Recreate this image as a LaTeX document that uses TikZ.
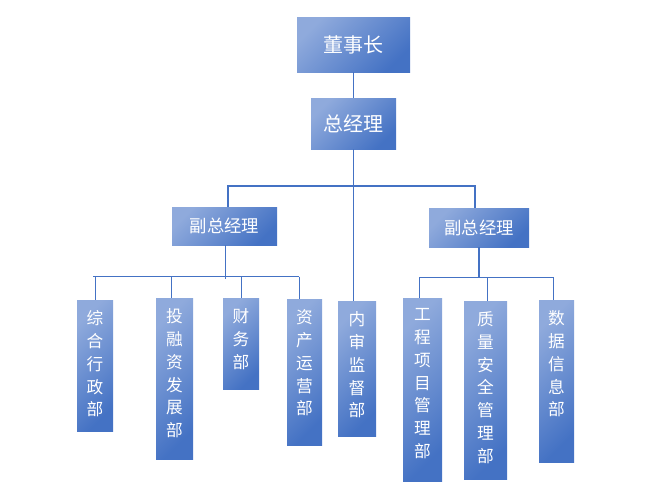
\documentclass[tikz,border=0pt]{standalone}
\usepackage{fontspec}
\setmainfont{Noto Sans CJK SC}
\definecolor{lb}{RGB}{143,170,220}
\definecolor{db}{RGB}{68,114,196}
\definecolor{ln}{RGB}{68,114,196}
\begin{document}
\begin{tikzpicture}[x=0.75pt,y=-0.75pt,
  box/.style={draw=none, top color=lb, bottom color=db, shading angle=45, inner sep=0pt, text=white},
  bigbox/.style={box, font=\fontsize{15}{17}\selectfont},
  midbox/.style={box, font=\fontsize{13}{15}\selectfont},
  vtxt/.style={text=white, align=center, inner sep=0pt, font=\fontsize{12.5}{17.1}\selectfont, anchor=north},
  conn/.style={draw=ln, line width=1pt}]
\useasboundingbox (0,0) rectangle (672,500);
% top boxes
\node[bigbox, minimum width=84.75pt, minimum height=41.25pt] (ceo) at (353.5,44.5) {董事长};
\node[bigbox, minimum width=63.75pt, minimum height=38.25pt] (gm) at (353.5,123.5) {总经理};
\node[midbox, minimum width=78.75pt, minimum height=28.5pt] (vp1) at (224.5,226) {副总经理};
\node[midbox, minimum width=75pt, minimum height=29.25pt] (vp2) at (479,227.5) {副总经理};
% departments
\node[box, minimum width=27pt, minimum height=98.25pt] (b1) at (95,365.5) {};
\node[box, minimum width=27.75pt, minimum height=120.75pt] (b2) at (174.5,378.5) {};
\node[box, minimum width=27pt, minimum height=68.25pt] (b3) at (241,343.5) {};
\node[box, minimum width=26.25pt, minimum height=109.5pt] (b4) at (304.5,372) {};
\node[box, minimum width=28.5pt, minimum height=101.25pt] (b5) at (357,368.5) {};
\node[box, minimum width=29.25pt, minimum height=137.25pt] (b6) at (422.5,389.5) {};
\node[box, minimum width=32.25pt, minimum height=133.5pt] (b7) at (485.5,390) {};
\node[box, minimum width=26.25pt, minimum height=121.5pt] (b8) at (556.5,381) {};
\node[vtxt] (t1) at ([yshift=-8pt]b1.north) {综\\合\\行\\政\\部};
\node[vtxt] (t2) at ([yshift=-8pt]b2.north) {投\\融\\资\\发\\展\\部};
\node[vtxt] (t3) at ([yshift=-8pt]b3.north) {财\\务\\部};
\node[vtxt] (t4) at ([yshift=-8pt]b4.north) {资\\产\\运\\营\\部};
\node[vtxt] (t5) at ([yshift=-8pt]b5.north) {内\\审\\监\\督\\部};
\node[vtxt] (t6) at ([yshift=-8pt]b6.north) {工\\程\\项\\目\\管\\理\\部};
\node[vtxt] (t7) at ([yshift=-8pt]b7.north) {质\\量\\安\\全\\管\\理\\部};
\node[vtxt] (t8) at ([yshift=-8pt]b8.north) {数\\据\\信\\息\\部};
% coordinates
\coordinate (barL) at (228,186);
\coordinate (barR) at (475,186);
\coordinate (l1) at (93,276.5);
\coordinate (l2) at (299,276.5);
\coordinate (lc) at (225.3,279);
\coordinate (d1) at (95.3,276.5);
\coordinate (d2) at (171.3,276.5);
\coordinate (d3) at (241.3,276.5);
\coordinate (d4) at (299.3,276.5);
\coordinate (r1) at (419.3,277.3);
\coordinate (r2) at (553.3,277.3);
\coordinate (e2) at (487.3,277.3);
% connectors
\draw[conn] (ceo.south) -- (gm.north);
\draw[conn] (gm.south) -- (gm.south |- b5.north);
\draw[conn] (barL |- vp1.north) -- (barL) -- (barR) -- (barR |- vp2.north);
\draw[conn] (vp1.south -| lc) -- (lc);
\draw[conn] (l1) -- (l2);
\draw[conn] (d1) -- (d1 |- b1.north);
\draw[conn] (d2) -- (d2 |- b2.north);
\draw[conn] (d3) -- (d3 |- b3.north);
\draw[conn] (d4) -- (d4 |- b4.north);
\draw[conn] (vp2.south) -- (vp2.south |- r1);
\draw[conn] (r1 |- b6.north) -- (r1) -- (r2) -- (r2 |- b8.north);
\draw[conn] (e2) -- (e2 |- b7.north);
\end{tikzpicture}
\end{document}
